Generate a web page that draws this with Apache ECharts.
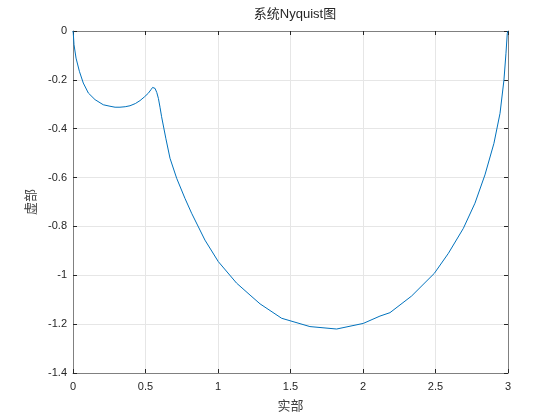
<!DOCTYPE html>
<html>
<head>
<meta charset="utf-8">
<script src="https://cdn.jsdelivr.net/npm/echarts@6/dist/echarts.min.js"></script>
<style>html,body{margin:0;padding:0;background:#fff;}#c{width:560px;height:420px;}</style>
</head>
<body>
<div id="c"></div>
<script>
var titleText = '系统Nyquist图';
var xLabel = '实部';
var yLabel = '虚部';
var realPart = [0, 0.002, 0.007, 0.021, 0.044, 0.071, 0.106, 0.152, 0.209, 0.255, 0.290, 0.324, 0.360, 0.393, 0.430, 0.462, 0.492, 0.519, 0.538, 0.549, 0.558, 0.566, 0.578, 0.589, 0.600, 0.611, 0.640, 0.669, 0.715, 0.772, 0.818, 0.910, 1.002, 1.128, 1.221, 1.290, 1.439, 1.634, 1.818, 2.002, 2.117, 2.186, 2.335, 2.492, 2.589, 2.692, 2.772, 2.841, 2.903, 2.945, 2.972, 2.986, 2.995, 3.0];
var imagPart = [0, -0.010, -0.056, -0.111, -0.165, -0.213, -0.254, -0.281, -0.302, -0.308, -0.312, -0.312, -0.310, -0.306, -0.297, -0.285, -0.270, -0.255, -0.240, -0.231, -0.229, -0.235, -0.252, -0.276, -0.312, -0.351, -0.439, -0.521, -0.603, -0.685, -0.746, -0.856, -0.944, -1.032, -1.081, -1.117, -1.176, -1.210, -1.220, -1.197, -1.167, -1.153, -1.085, -0.992, -0.910, -0.808, -0.705, -0.589, -0.460, -0.337, -0.201, -0.091, -0.010, 0];
var xTicks = [0, 0.5, 1, 1.5, 2, 2.5, 3];
var yTicks = [0, -0.2, -0.4, -0.6, -0.8, -1, -1.2, -1.4];

var pts = realPart.map(function(v, i){ return [v, imagPart[i]]; });
var axisColor = '#808080';
var labelColor = '#262626';
var chart = echarts.init(document.getElementById('c'), null, {renderer: 'canvas'});
function fmt(v){ return String(Math.round(v*10)/10); }
chart.setOption({
  animation: false,
  backgroundColor: '#fff',
  title: {
    text: titleText, left: 290, top: 3, textAlign: 'center',
    textStyle: {fontFamily: 'Liberation Sans, Noto Sans CJK SC', fontSize: 13, fontWeight: 'normal', color: '#262626'}
  },
  grid: {left: 73, right: 52, top: 31, bottom: 47, show: false},
  xAxis: [{
    type: 'value', min: 0, max: 3, interval: 0.5, position: 'bottom',
    name: xLabel, nameLocation: 'middle', nameGap: 26,
    nameTextStyle: {fontFamily: 'Noto Sans CJK SC', fontSize: 13, color: '#404040'},
    axisLine: {show: true, onZero: false, lineStyle: {color: axisColor, width: 1}},
    axisTick: {show: true, inside: true, length: 4, lineStyle: {color: labelColor}},
    axisLabel: {color: labelColor, fontFamily: 'Liberation Sans', fontSize: 11, margin: 8, formatter: fmt},
    splitLine: {show: true, lineStyle: {color: '#e6e6e6', width: 1}}
  }, {
    type: 'value', min: 0, max: 3, interval: 0.5, position: 'top',
    axisLine: {show: true, onZero: false, lineStyle: {color: axisColor, width: 1}},
    axisTick: {show: true, inside: true, length: 4, lineStyle: {color: labelColor}},
    axisLabel: {show: false}, splitLine: {show: false}
  }],
  yAxis: [{
    type: 'value', min: -1.4, max: 0, interval: 0.2, position: 'left',
    name: yLabel, nameLocation: 'middle', nameGap: 36, nameRotate: 90,
    nameTextStyle: {fontFamily: 'Noto Sans CJK SC', fontSize: 13, color: '#404040'},
    axisLine: {show: true, onZero: false, lineStyle: {color: axisColor, width: 1}},
    axisTick: {show: true, inside: true, length: 4, lineStyle: {color: labelColor}},
    axisLabel: {color: labelColor, fontFamily: 'Liberation Sans', fontSize: 11, margin: 6, formatter: fmt},
    splitLine: {show: true, lineStyle: {color: '#e6e6e6', width: 1}}
  }, {
    type: 'value', min: -1.4, max: 0, interval: 0.2, position: 'right',
    axisLine: {show: true, onZero: false, lineStyle: {color: axisColor, width: 1}},
    axisTick: {show: true, inside: true, length: 4, lineStyle: {color: labelColor}},
    axisLabel: {show: false}, splitLine: {show: false}
  }],
  series: [{
    type: 'line', data: pts, xAxisIndex: 0, yAxisIndex: 0,
    showSymbol: false, smooth: false,
    lineStyle: {color: '#0072BD', width: 1}
  }]
});
</script>
</body>
</html>
